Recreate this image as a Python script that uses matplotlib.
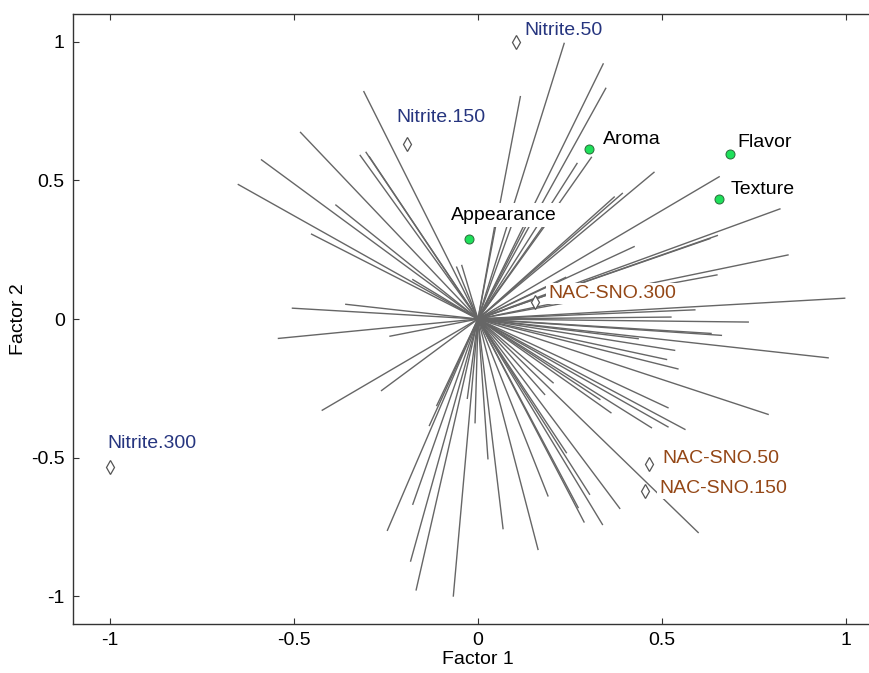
import matplotlib
matplotlib.use("Agg")
import matplotlib.pyplot as plt

plt.rcParams['font.family'] = ['Liberation Sans', 'DejaVu Sans']

# consumer loadings (end points of the lines drawn from the origin)
load_x = [-0.31, -0.482, -0.588, -0.651, -0.32, -0.304, -0.295, -0.386, -0.452, -0.177,
          -0.058, -0.044, -0.504, -0.359,
          -0.542, -0.239, -0.423, -0.262, -0.112, -0.132, -0.246, -0.177, -0.183, -0.168,
          -0.067, -0.029, -0.008,
          0.027, 0.068, 0.163, 0.19, 0.24, 0.272, 0.303, 0.288, 0.338, 0.385, 0.598,
          0.181, 0.204, 0.331, 0.361, 0.471, 0.516, 0.562, 0.516, 0.788, 0.512, 0.543,
          0.534, 0.951, 0.435, 0.661, 0.633,
          0.734, 0.524, 0.589, 0.996,
          0.649, 0.842, 0.65, 0.63, 0.82, 0.424, 0.655, 0.478, 0.392, 0.37, 0.308,
          0.269, 0.347, 0.34, 0.234, 0.115,
          0.05, 0.10, 0.14, 0.20, 0.238]
load_y = [0.82, 0.673, 0.574, 0.485, 0.59, 0.601, 0.585, 0.411, 0.306, 0.142,
          0.187, 0.193, 0.039, 0.053,
          -0.070, -0.062, -0.329, -0.258, -0.312, -0.384, -0.762, -0.668, -0.873, -0.977,
          -0.999, -0.286, -0.374,
          -0.504, -0.756, -0.831, -0.638, -0.482, -0.68, -0.632, -0.732, -0.741, -0.683, -0.77,
          -0.272, -0.23, -0.29, -0.338, -0.392, -0.389, -0.398, -0.32, -0.344, -0.146, -0.18,
          -0.113, -0.14, -0.071, -0.059, -0.052,
          -0.011, 0.007, 0.033, 0.075,
          0.159, 0.231, 0.301, 0.29, 0.397, 0.261, 0.513, 0.529, 0.453, 0.44, 0.583,
          0.561, 0.832, 0.92, 0.994, 0.802,
          0.37, 0.37, 0.36, 0.37, 0.15]

# samples
samples = ["Nitrite.50", "Nitrite.150", "Nitrite.300", "NAC-SNO.300", "NAC-SNO.50", "NAC-SNO.150"]
sample_x = [0.103, -0.193, -1.0, 0.155, 0.465, 0.454]
sample_y = [1.0, 0.632, -0.535, 0.06, -0.524, -0.622]

# sensory attributes
attributes = ["Aroma", "Flavor", "Texture", "Appearance"]
attr_x = [0.302, 0.685, 0.655, -0.024]
attr_y = [0.614, 0.596, 0.431, 0.287]

blue = "#26357f"
brown = "#944716"

fig = plt.figure(figsize=(8.69, 6.73), dpi=100)
ax = fig.add_axes([73 / 869, 49 / 673, 810 / 869, 610 / 673])

for x, y in zip(load_x, load_y):
    ax.plot([0, x], [0, y], color="#666666", lw=1.0, zorder=1)

ax.plot(sample_x, sample_y, linestyle="none", marker="d", markersize=7.5,
        markerfacecolor="white", markeredgecolor="#555555", markeredgewidth=0.9, zorder=5)
ax.plot(attr_x, attr_y, linestyle="none", marker="o", markersize=6.5,
        markerfacecolor="#1ee05a", markeredgecolor="#2a6a3a", markeredgewidth=0.7, zorder=5)

fs = 14
# label offsets in points
sample_offsets = [(5.8, 8), (-7.9, 18.7), (-1.4, 17.3), (9.4, 6.5), (9.4, 4.3), (10, 2.2)]
for name, x, y, off in zip(samples, sample_x, sample_y, sample_offsets):
    col = blue if name.startswith("Nitrite") else brown
    ax.annotate(name, (x, y), xytext=off, textcoords="offset points",
                color=col, fontsize=fs, ha="left", va="center",
                bbox=dict(facecolor="white", edgecolor="none", pad=1.5), zorder=4)

attr_offsets = [(10, 6.5), (5, 8), (8.6, 7.2), (-13, 17.3)]
for name, x, y, off in zip(attributes, attr_x, attr_y, attr_offsets):
    ax.annotate(name, (x, y), xytext=off, textcoords="offset points",
                color="black", fontsize=fs, ha="left", va="center",
                bbox=dict(facecolor="white", edgecolor="none", pad=2.5), zorder=4)

ax.set_xlim(-1.1, 1.1)
ax.set_ylim(-1.1, 1.1)
ax.set_xticks([-1, -0.5, 0, 0.5, 1])
ax.set_xticklabels(["-1", "-0.5", "0", "0.5", "1"])
ax.set_yticks([-1, -0.5, 0, 0.5, 1])
ax.set_yticklabels(["-1", "-0.5", "0", "0.5", "1"])
ax.tick_params(direction="in", top=True, right=True, length=4, width=0.8,
               labelsize=14, color="#333333", pad=6)
for s in ax.spines.values():
    s.set_color("#333333")
    s.set_linewidth(1.0)
ax.set_xlabel("Factor 1", fontsize=14, labelpad=1)
ax.set_ylabel("Factor 2", fontsize=14, labelpad=3)

fig.savefig("out.png", dpi=100)
